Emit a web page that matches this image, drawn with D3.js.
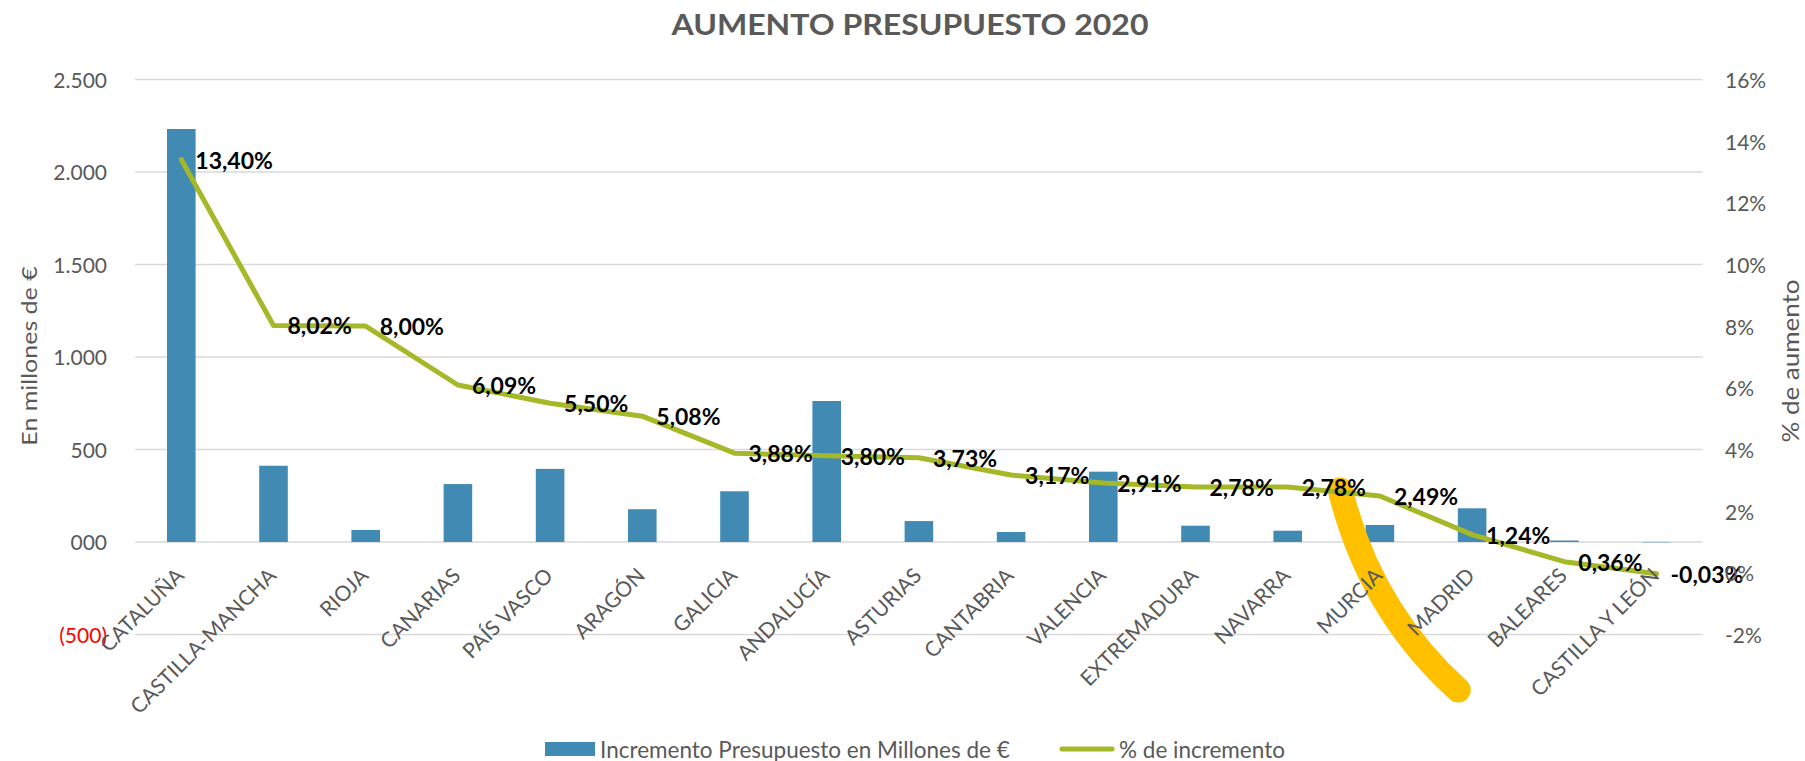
<!DOCTYPE html>
<html>
<head>
<meta charset="utf-8">
<script src="https://cdn.jsdelivr.net/npm/d3@7"></script>
<style>
  html, body { margin: 0; padding: 0; background: #ffffff; }
  svg { display: block; }
  text { font-family: Lato, "Open Sans", sans-serif; }
</style>
</head>
<body>
<svg id="chart" width="1805" height="761"></svg>
<script>
// ---- DATA ----
const categories = ["CATALUÑA","CASTILLA-MANCHA","RIOJA","CANARIAS","PAÍS VASCO","ARAGÓN","GALICIA","ANDALUCÍA","ASTURIAS","CANTABRIA","VALENCIA","EXTREMADURA","NAVARRA","MURCIA","MADRID","BALEARES","CASTILLA Y LEÓN"];
const incrementoMillones = [2232, 412, 65, 313, 395, 177, 274, 762, 113, 54, 380, 88, 61, 92, 182, 8, -2];
const pctIncremento = [13.40, 8.02, 8.00, 6.09, 5.50, 5.08, 3.88, 3.80, 3.73, 3.17, 2.91, 2.78, 2.78, 2.49, 1.24, 0.36, -0.03];
const pctLabels = ["13,40%","8,02%","8,00%","6,09%","5,50%","5,08%","3,88%","3,80%","3,73%","3,17%","2,91%","2,78%","2,78%","2,49%","1,24%","0,36%","-0,03%"];
const leftTicks = [-500, 0, 500, 1000, 1500, 2000, 2500];
const leftTickLabels = ["(500)", "000", "500", "1.000", "1.500", "2.000", "2.500"];
const rightTicks = [-2, 0, 2, 4, 6, 8, 10, 12, 14, 16];
const rightTickLabels = ["-2%", "0%", "2%", "4%", "6%", "8%", "10%", "12%", "14%", "16%"];
const titleText = "AUMENTO PRESUPUESTO 2020";
const leftAxisTitle = "En millones de €";
const rightAxisTitle = "% de aumento";
const legendBar = "Incremento Presupuesto en Millones de €";
const legendLine = "% de incremento";
// hand-drawn highlight annotation, in (category position, millones) units
const highlightPts = [[13.07, 281], [13.39, -368], [14.35, -800]];

// ---- LAYOUT ----
const plotLeft = 135.2, plotRight = 1702.6, plotTop = 79.4, plotBottom = 634.5;
const gray = "#595959";
const barColor = "#418AB3";
const lineColor = "#A5B828";

const svg = d3.select("#chart");

const x = d3.scaleBand().domain(categories).range([plotLeft, plotRight])
  .paddingInner(0.69).paddingOuter(0.345);
const xPos = d3.scaleLinear().domain([0, categories.length]).range([plotLeft, plotRight]);
const yL = d3.scaleLinear().domain([-500, 2500]).range([plotBottom, plotTop]);
const yR = d3.scaleLinear().domain([-2, 16]).range([plotBottom, plotTop]);

// gridlines
svg.append("g").selectAll("line").data(leftTicks).join("line")
  .attr("x1", plotLeft).attr("x2", plotRight)
  .attr("y1", d => yL(d)).attr("y2", d => yL(d))
  .attr("stroke", "#D9D9D9").attr("stroke-width", 1.5);

// bars
svg.append("g").selectAll("rect").data(incrementoMillones).join("rect")
  .attr("x", (d, i) => x(categories[i]))
  .attr("width", x.bandwidth())
  .attr("y", d => Math.min(yL(d), yL(0)))
  .attr("height", d => Math.abs(yL(d) - yL(0)))
  .attr("fill", barColor);

// highlight annotation
svg.append("path")
  .attr("d", `M${xPos(highlightPts[0][0])},${yL(highlightPts[0][1])} Q${xPos(highlightPts[1][0])},${yL(highlightPts[1][1])} ${xPos(highlightPts[2][0])},${yL(highlightPts[2][1])}`)
  .attr("fill", "none").attr("stroke", "#FFC000").attr("stroke-width", 25)
  .attr("stroke-linecap", "round");

// line
const cx = i => x(categories[i]) + x.bandwidth() / 2;
svg.append("path").datum(pctIncremento)
  .attr("d", d3.line().x((d, i) => cx(i)).y(d => yR(d)))
  .attr("fill", "none").attr("stroke", lineColor).attr("stroke-width", 5)
  .attr("stroke-linejoin", "round").attr("stroke-linecap", "round");

// data labels
svg.append("g").selectAll("text").data(pctIncremento).join("text")
  .attr("x", (d, i) => cx(i) + 14)
  .attr("y", d => yR(d))
  .attr("dominant-baseline", "central")
  .attr("font-size", 23).attr("font-weight", "bold").attr("fill", "#000")
  .text((d, i) => pctLabels[i]);

// left axis labels
svg.append("g").selectAll("text").data(leftTicks).join("text")
  .attr("x", 107).attr("y", d => yL(d))
  .attr("text-anchor", "end").attr("dominant-baseline", "central")
  .attr("font-size", 21)
  .attr("fill", d => d < 0 ? "#FF0000" : gray)
  .text((d, i) => leftTickLabels[i]);

// right axis labels
svg.append("g").selectAll("text").data(rightTicks).join("text")
  .attr("x", 1725).attr("y", d => yR(d))
  .attr("dominant-baseline", "central")
  .attr("font-size", 21).attr("fill", gray)
  .text((d, i) => rightTickLabels[i]);

// category labels
svg.append("g").selectAll("text").data(categories).join("text")
  .attr("transform", d => `translate(${x(d) + x.bandwidth() / 2 + 4},577) rotate(-45)`)
  .attr("text-anchor", "end")
  .attr("font-size", 21).attr("fill", gray)
  .text(d => d);

// title
svg.append("text").attr("x", 910).attr("y", 23)
  .attr("text-anchor", "middle").attr("dominant-baseline", "central")
  .attr("font-size", 29).attr("font-weight", "bold").attr("fill", gray)
  .attr("textLength", 477).attr("lengthAdjust", "spacingAndGlyphs")
  .text(titleText);

// axis titles
svg.append("text").attr("transform", "translate(37,356) scale(0.85,1) rotate(-90)")
  .attr("text-anchor", "middle")
  .attr("font-size", 25).attr("fill", gray).text(leftAxisTitle);
svg.append("text").attr("transform", "translate(1799,361) scale(0.85,1) rotate(-90)")
  .attr("text-anchor", "middle")
  .attr("font-size", 26).attr("fill", gray).text(rightAxisTitle);

// legend
const lg = svg.append("g");
lg.append("rect").attr("x", 545).attr("y", 742).attr("width", 50).attr("height", 14).attr("fill", barColor);
lg.append("text").attr("x", 600).attr("y", 749).attr("dominant-baseline", "central")
  .attr("font-size", 22.5).attr("fill", gray).text(legendBar);
lg.append("line").attr("x1", 1062).attr("x2", 1112).attr("y1", 749).attr("y2", 749)
  .attr("stroke", lineColor).attr("stroke-width", 5).attr("stroke-linecap", "round");
lg.append("text").attr("x", 1119).attr("y", 749).attr("dominant-baseline", "central")
  .attr("font-size", 22.5).attr("fill", gray).text(legendLine);
</script>
</body>
</html>
